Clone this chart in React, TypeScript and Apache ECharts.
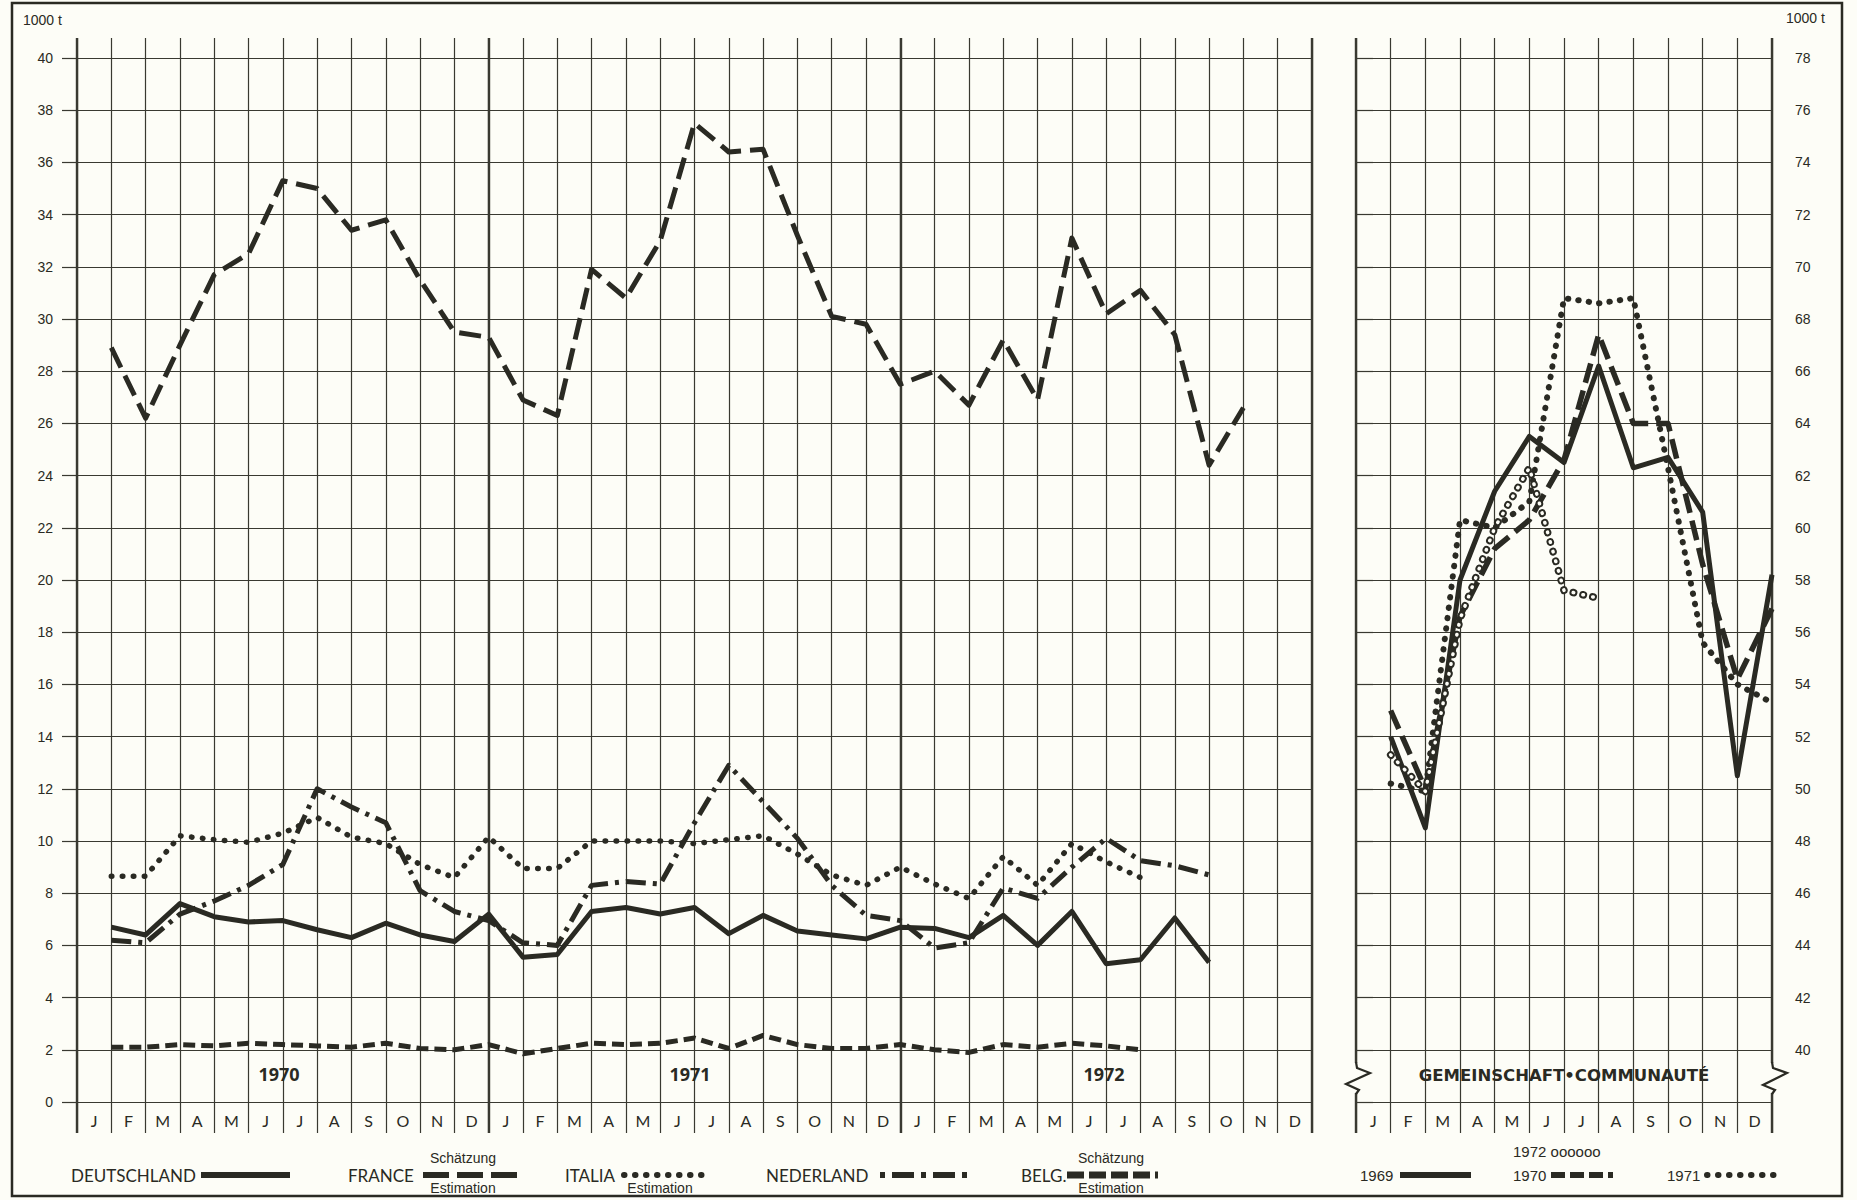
import React, { useEffect, useRef } from "react";
import * as echarts from "echarts";

// ---------- data ----------
const MONTHS = ["J", "F", "M", "A", "M", "J", "J", "A", "S", "O", "N", "D"];
const YEARS = ["1970", "1971", "1972"];

// Left panel: Jan 1970 .. Dec 1972 (1000 t)
const deutschland = [
  6.7, 6.4, 7.6, 7.1, 6.9, 6.95, 6.6, 6.3, 6.85, 6.4, 6.15, 7.2,
  5.55, 5.65, 7.3, 7.45, 7.2, 7.45, 6.45, 7.15, 6.55, 6.4, 6.25, 6.7,
  6.65, 6.3, 7.15, 6.0, 7.3, 5.3, 5.45, 7.05, 5.35, null, null, null,
];
const france = [
  28.9, 26.2, 29.0, 31.7, 32.5, 35.3, 35.0, 33.4, 33.8, 31.5, 29.5, 29.3,
  26.9, 26.3, 31.9, 30.8, 33.0, 37.5, 36.4, 36.5, 33.2, 30.1, 29.8, 27.5,
  28.0, 26.7, 29.2, 26.9, 33.1, 30.2, 31.1, 29.4, 24.4, 26.6, null, null,
];
const italia = [
  8.65, 8.65, 10.2, 10.05, 9.95, 10.3, 10.9, 10.15, 9.9, 9.1, 8.6, 10.15,
  8.95, 8.95, 10.0, 10.0, 10.0, 9.9, 10.05, 10.2, 9.5, 8.7, 8.3, 9.0,
  8.35, 7.8, 9.4, 8.3, 9.9, 9.2, 8.6, null, null, null, null, null,
];
const nederland = [
  6.2, 6.1, 7.2, 7.7, 8.3, 9.1, 12.0, 11.3, 10.7, 8.1, 7.3, 6.95,
  6.1, 6.0, 8.3, 8.45, 8.35, 10.7, 12.9, 11.5, 10.1, 8.3, 7.15, 6.95,
  5.9, 6.1, 8.2, 7.8, 9.0, 10.1, 9.25, 9.05, 8.7, null, null, null,
];
const belg = [
  2.1, 2.1, 2.2, 2.15, 2.25, 2.2, 2.15, 2.1, 2.25, 2.05, 2.0, 2.2,
  1.85, 2.05, 2.25, 2.2, 2.25, 2.45, 2.05, 2.55, 2.2, 2.05, 2.05, 2.2,
  2.0, 1.9, 2.2, 2.1, 2.25, 2.15, 2.0, null, null, null, null, null,
];

// Right panel: Gemeinschaft / Communauté (1000 t)
const gem1969 = [52.0, 48.5, 58.0, 61.4, 63.5, 62.5, 66.2, 62.3, 62.7, 60.6, 50.5, 58.2];
const gem1970 = [53.0, 50.0, 56.6, 59.2, 60.3, 62.6, 67.4, 64.0, 64.0, 58.6, 54.2, 56.9];
const gem1971 = [50.2, 49.9, 60.3, 60.0, 61.0, 68.8, 68.6, 68.8, 62.3, 55.6, 54.0, 53.3];
const gem1972 = [51.3, 49.9, 56.5, 60.0, 62.3, 57.6, 57.3, null, null, null, null, null];

const LEFT_Y = { min: 0, max: 40, interval: 2 };
const RIGHT_Y = { min: 38, max: 78, interval: 2 };

// ---------- styles ----------
const BG = "#fdfdf7";
const INK = "#2a2a23";
const GRIDC = "#393931";

const toPoints = (arr: (number | null)[]) =>
  arr.map((v, i) => (v == null ? null : [i + 1, v])).filter((p) => p !== null);

const linesAxis = (gridIndex: number, max: number, interval: number, width: number) => ({
  type: "value",
  gridIndex,
  min: 0,
  max,
  interval,
  axisLine: { show: false },
  axisTick: { show: false },
  axisLabel: { show: false },
  splitLine: { show: true, lineStyle: { color: GRIDC, width } },
});

const dataAxis = (gridIndex: number, max: number) => ({
  type: "value",
  gridIndex,
  min: 0,
  max,
  show: false,
});

const monthAxis = (gridIndex: number, data: string[]) => ({
  type: "category",
  gridIndex,
  data,
  boundaryGap: true,
  position: "bottom",
  axisLine: { show: false },
  axisTick: { show: false },
  splitLine: { show: false },
  axisLabel: { interval: 0, margin: 10, fontSize: 16, fontFamily: "Lato", color: INK },
});

const lineSeries = (name: string, data: (number | null)[], xi: number, yi: number, ls: any, z = 3) => ({
  type: "line",
  name,
  data: toPoints(data),
  xAxisIndex: xi,
  yAxisIndex: yi,
  symbol: "none",
  silent: true,
  z,
  lineStyle: { color: INK, width: 5, join: "round", cap: "butt", ...ls },
});

const T = (text: string, x: number, y: number, size: number, o: any = {}) => ({
  type: "text",
  x,
  y,
  silent: true,
  z: 10,
  style: {
    text,
    fill: INK,
    fontSize: size,
    fontFamily: o.family || "Liberation Sans",
    fontWeight: o.weight || "normal",
    align: o.align || "left",
    textAlign: o.align || "left",
    verticalAlign: "middle",
    textVerticalAlign: "middle",
  },
});

const L = (x1: number, x2: number, y: number, st: any) => ({
  type: "line",
  silent: true,
  z: 10,
  shape: { x1, y1: y, x2, y2: y },
  style: { stroke: INK, lineWidth: 6, ...st },
});

export default function App() {
  const ref = useRef<HTMLDivElement>(null);

  useEffect(() => {
    if (!ref.current) return;
    const chart = echarts.init(ref.current, null, { renderer: "svg" });
    const months36 = YEARS.flatMap(() => MONTHS);

    const option: any = {
      animation: false,
      backgroundColor: BG,
      grid: [
        { left: 77, top: 38, width: 1235, height: 1095 },
        { left: 77, top: 58, width: 1235, height: 1044 },
        { left: 1356, top: 38, width: 416, height: 1095 },
        { left: 1356, top: 58, width: 416, height: 1044 },
      ],
      xAxis: [
        linesAxis(0, 36, 1, 1.2),
        linesAxis(0, 36, 12, 2.4),
        dataAxis(1, 36),
        monthAxis(1, months36),
        linesAxis(2, 12, 1, 1.2),
        linesAxis(2, 12, 12, 2.4),
        dataAxis(3, 12),
        monthAxis(3, MONTHS),
      ],
      yAxis: [
        { type: "value", gridIndex: 0, min: 0, max: 1, show: false },
        {
          type: "value",
          gridIndex: 1,
          ...LEFT_Y,
          position: "left",
          axisLine: { show: false },
          axisTick: { show: true, inside: false, length: 15, lineStyle: { color: GRIDC, width: 1.2 } },
          axisLabel: { margin: 24, fontSize: 14, fontFamily: "Liberation Sans", color: INK },
          splitLine: { show: true, lineStyle: { color: GRIDC, width: 1.2 } },
        },
        { type: "value", gridIndex: 2, min: 0, max: 1, show: false },
        {
          type: "value",
          gridIndex: 3,
          ...RIGHT_Y,
          position: "right",
          axisLine: { show: false },
          axisTick: { show: true, inside: false, length: 17, lineStyle: { color: GRIDC, width: 1.2 } },
          axisLabel: {
            margin: 23,
            fontSize: 14,
            fontFamily: "Liberation Sans",
            color: INK,
            formatter: (v: number) => (v < 40 ? "" : String(v)),
          },
          splitLine: { show: true, lineStyle: { color: GRIDC, width: 1.2 } },
        },
      ],
      series: [
        lineSeries("Deutschland", deutschland, 2, 1, {}),
        lineSeries("France", france, 2, 1, { type: [22, 9] }),
        lineSeries("Italia", italia, 2, 1, { type: [0.5, 10.5], cap: "round", width: 5.5 }),
        lineSeries("Nederland", nederland, 2, 1, { type: [20, 7, 4, 7] }),
        lineSeries("Belg.", belg, 2, 1, { type: [12, 6] }),
        lineSeries("1969", gem1969, 6, 3, {}),
        lineSeries("1970", gem1970, 6, 3, { type: [20, 8], width: 5.5 }),
        lineSeries("1971", gem1971, 6, 3, { type: [0.5, 10], cap: "round", width: 6 }),
        lineSeries("1972", gem1972, 6, 3, { type: [0.5, 9.5], cap: "round", width: 7.5 }, 4),
        lineSeries("1972 inner", gem1972, 6, 3, { type: [0.5, 9.5], cap: "round", width: 3.5, color: BG }, 5),
      ],
      graphic: [
        // frame
        {
          type: "rect",
          silent: true,
          z: 10,
          shape: { x: 12, y: 3, width: 1830, height: 1193 },
          style: { fill: "none", stroke: INK, lineWidth: 2.5 },
        },
        T("1000 t", 23, 20, 14),
        T("1000 t", 1786, 18, 14),
        // year labels
        T("1970", 279, 1074, 18, { family: "Open Sans", weight: "bold", align: "center" }),
        T("1971", 690, 1074, 18, { family: "Open Sans", weight: "bold", align: "center" }),
        T("1972", 1104, 1074, 18, { family: "Open Sans", weight: "bold", align: "center" }),
        // break marks in the right panel
        { type: "rect", silent: true, z: 9, shape: { x: 1351, y: 1063, width: 10, height: 30 }, style: { fill: BG } },
        { type: "rect", silent: true, z: 9, shape: { x: 1767, y: 1063, width: 10, height: 30 }, style: { fill: BG } },
        {
          type: "polyline",
          silent: true,
          z: 10,
          shape: { points: [[1356, 1062], [1357, 1068], [1370, 1073], [1346, 1084], [1359, 1090], [1356, 1094]] },
          style: { stroke: INK, lineWidth: 2.2, fill: "none" },
        },
        {
          type: "polyline",
          silent: true,
          z: 10,
          shape: { points: [[1772, 1062], [1773, 1068], [1787, 1073], [1763, 1085], [1775, 1090], [1772, 1094]] },
          style: { stroke: INK, lineWidth: 2.2, fill: "none" },
        },
        T("GEMEINSCHAFT•COMMUNAUTÉ", 1564, 1075, 16.5, { family: "DejaVu Sans", weight: "bold", align: "center" }),
        // legend left
        T("DEUTSCHLAND", 71, 1175, 17, { family: "Lato" }),
        L(201, 290, 1175, {}),
        T("FRANCE", 348, 1175, 17, { family: "Lato" }),
        L(423, 521, 1175, { lineDash: [26, 8] }),
        T("Schätzung", 463, 1158, 14, { align: "center" }),
        T("Estimation", 463, 1188, 14, { align: "center" }),
        T("ITALIA", 565, 1175, 17, { family: "Lato" }),
        L(624, 708, 1175, { lineDash: [0.5, 10.5], lineCap: "round" }),
        T("Estimation", 660, 1188, 14, { align: "center" }),
        T("NEDERLAND", 766, 1175, 17, { family: "Lato" }),
        L(880, 969, 1175, { lineDash: [5, 7, 22, 7] }),
        T("BELG.", 1021, 1175, 17, { family: "Lato" }),
        L(1067, 1158, 1175, { lineDash: [17, 5], lineWidth: 7 }),
        T("Schätzung", 1111, 1158, 14, { align: "center" }),
        T("Estimation", 1111, 1188, 14, { align: "center" }),
        // legend right
        T("1969", 1360, 1175, 15),
        L(1400, 1471, 1175, {}),
        T("1972 oooooo", 1513, 1151, 15),
        T("1970", 1513, 1175, 15),
        L(1551, 1613, 1175, { lineDash: [14, 5] }),
        T("1971", 1667, 1175, 15),
        L(1707, 1777, 1175, { lineDash: [0.5, 10.5], lineCap: "round" }),
      ],
    };

    chart.setOption(option);
    return () => chart.dispose();
  }, []);

  return (
    <div
      style={{ position: "fixed", left: 0, top: 0, width: 1857, height: 1200, background: BG }}
    >
      <div ref={ref} style={{ width: 1857, height: 1200 }} />
    </div>
  );
}
